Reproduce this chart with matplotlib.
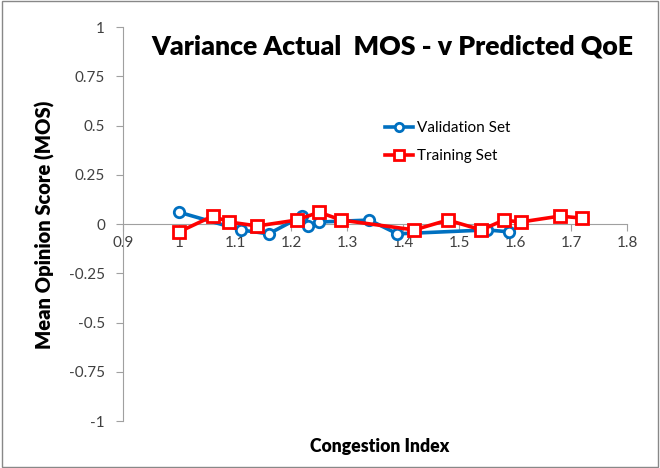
import matplotlib
matplotlib.use("Agg")
import matplotlib.pyplot as plt
from matplotlib.patches import Rectangle

plt.rcParams['font.family'] = ['Lato', 'DejaVu Sans']

# validation set
val_x = [1.0, 1.11, 1.16, 1.22, 1.23, 1.25, 1.34, 1.39, 1.55, 1.59]
val_y = [0.06, -0.03, -0.05, 0.04, -0.01, 0.01, 0.02, -0.05, -0.03, -0.04]

# training set
train_x = [1.0, 1.06, 1.09, 1.14, 1.21, 1.25, 1.29, 1.42, 1.48, 1.54, 1.58, 1.61, 1.68, 1.72]
train_y = [-0.04, 0.04, 0.01, -0.01, 0.02, 0.06, 0.02, -0.03, 0.02, -0.03, 0.02, 0.01, 0.04, 0.03]

xticks = [0.9, 1.0, 1.1, 1.2, 1.3, 1.4, 1.5, 1.6, 1.7, 1.8]
xtick_labels = ['0.9', '1', '1.1', '1.2', '1.3', '1.4', '1.5', '1.6', '1.7', '1.8']
yticks = [-1, -0.75, -0.5, -0.25, 0, 0.25, 0.5, 0.75, 1]
ytick_labels = ['-1', '-0.75', '-0.5', '-0.25', '0', '0.25', '0.5', '0.75', '1']

fig = plt.figure(figsize=(6.6, 4.68), dpi=100)
fig.patches.append(Rectangle((0.003, 0.003), 0.994, 0.994, transform=fig.transFigure,
                             fill=False, edgecolor='#888888', linewidth=1))
ax = fig.add_axes([0.1864, 0.1004, 0.7636, 0.8419])

ax.plot(val_x, val_y, color='#0070C0', linewidth=2.6, marker='o', markersize=7.5,
        markerfacecolor='white', markeredgewidth=2, label='Validation Set', zorder=3)
ax.plot(train_x, train_y, color='#FF0000', linewidth=2.6, marker='s', markersize=8.5,
        markerfacecolor='white', markeredgewidth=2, label='Training Set', zorder=4)

ax.set_xlim(0.9, 1.8)
ax.set_ylim(-1, 1)
ax.spines['right'].set_visible(False)
ax.spines['top'].set_visible(False)
ax.spines['bottom'].set_position(('data', 0))
ax.spines['bottom'].set_color('#a0a0a0')
ax.spines['left'].set_color('#a0a0a0')

ax.set_xticks(xticks)
ax.set_xticklabels(xtick_labels)
ax.set_yticks(yticks)
ax.set_yticklabels(ytick_labels)
ax.tick_params(axis='both', colors='#a0a0a0', labelcolor='#404040', labelsize=11, length=5)
ax.tick_params(axis='y', pad=8)

fig.text(0.594, 0.9, 'Variance Actual  MOS - v Predicted QoE', ha='center', va='center',
         fontsize=19.2, fontweight='heavy')
fig.text(0.575, 0.047, 'Congestion Index', ha='center', va='center',
         fontsize=12.7, fontweight='heavy')
fig.text(0.068, 0.52, 'Mean Opinion Score (MOS)', ha='center', va='center',
         fontsize=14.5, fontweight='heavy', rotation=90)

ax.legend(loc='upper left', bbox_to_anchor=(0.505, 0.78), frameon=False, fontsize=11,
          handlelength=1.8, handletextpad=0.3, labelspacing=0.9, borderpad=0,
          markerscale=0.8)

fig.savefig('out.png', dpi=100)
